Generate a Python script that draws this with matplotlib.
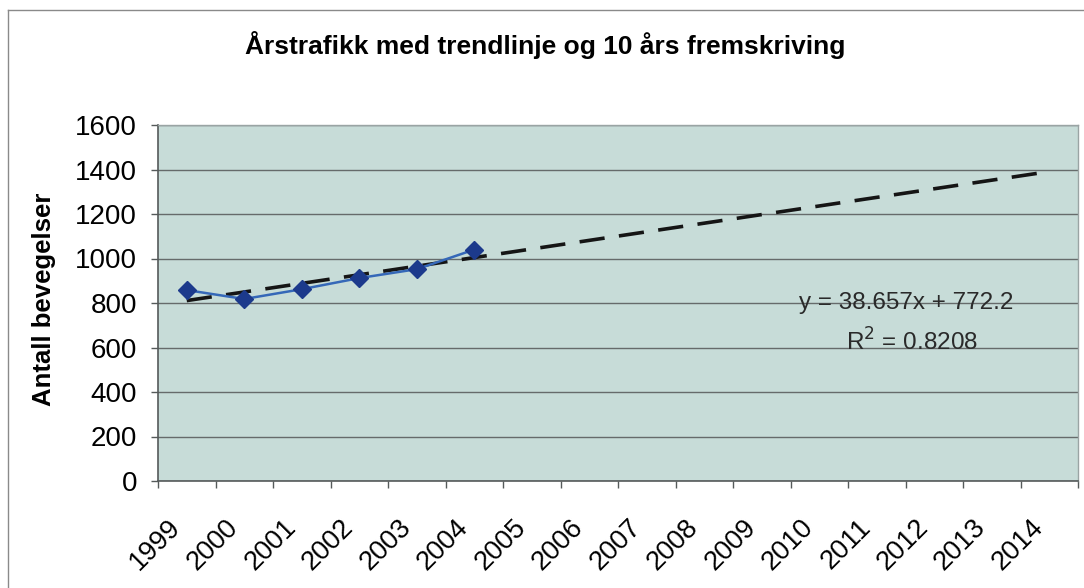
import matplotlib
matplotlib.use("Agg")
import matplotlib.pyplot as plt
from matplotlib.lines import Line2D
from matplotlib.transforms import ScaledTranslation
import numpy as np

plt.rcParams['font.family'] = ['Liberation Sans', 'DejaVu Sans']

# Annual traffic (movements) per year, observed
years = ['1999', '2000', '2001', '2002', '2003', '2004', '2005', '2006',
         '2007', '2008', '2009', '2010', '2011', '2012', '2013', '2014']
observed = [858, 818, 862, 912, 952, 1040]

# Linear trend, y = a*x + b with x = 1 for the first year
trend_slope = 38.657
trend_intercept = 772.2
trend_r2 = 0.8208

y_ticks = [0, 200, 400, 600, 800, 1000, 1200, 1400, 1600]

fig = plt.figure(figsize=(10.84, 5.88), dpi=100)
ax = fig.add_axes([158 / 1084, 1 - 481 / 588, 920 / 1084, 356 / 588])
ax.set_facecolor('#c7dcd8')

n = len(years)
x_all = np.arange(1, n + 1)
x_obs = np.arange(1, len(observed) + 1)

ax.set_xlim(0.5, n + 0.5)
ax.set_ylim(0, 1600)

# gridlines
ax.set_yticks(y_ticks)
ax.yaxis.grid(True, color='#666b6b', linewidth=1.0)
ax.set_axisbelow(True)

# observed series
ax.plot(x_obs, observed, color='#3568b8', linewidth=1.8, zorder=3)
ax.plot(x_obs, observed, linestyle='none', marker='D', markersize=9,
        color='#1c3a8c', markeredgecolor='#1c3a8c', zorder=4)

# trend line with 10-year forecast
trend = trend_slope * x_all + trend_intercept
ax.plot(x_all, trend, color='#151515', linewidth=2.6,
        dashes=(7, 4), zorder=2)

ax.text(0.813, 0.5, 'y = 38.657x + 772.2', transform=ax.transAxes,
        fontsize=17.5, color='#2a2a2a', ha='center', va='center')
ax.text(0.82, 0.39, 'R$^2$ = %.4f' % trend_r2, transform=ax.transAxes,
        fontsize=17.5, color='#2a2a2a', ha='center', va='center')

# axes styling
for side in ['top', 'right']:
    ax.spines[side].set_color('#9aa4a4')
    ax.spines[side].set_linewidth(1.0)
for side in ['left', 'bottom']:
    ax.spines[side].set_color('#555a5a')
    ax.spines[side].set_linewidth(1.2)

ax.tick_params(axis='y', direction='out', length=5, width=1,
               color='#555a5a', labelsize=20, pad=10)
ax.set_yticklabels([str(v) for v in y_ticks])

# ticks between categories, labels at the category centres
ax.set_xticks(np.arange(0.5, n + 1.0, 1.0))
ax.set_xticklabels([])
ax.tick_params(axis='x', which='major', direction='out', length=5,
               width=1, color='#555a5a')
ax.set_xticks(x_all, minor=True)
ax.set_xticklabels(years, minor=True, rotation=45, ha='right',
                   rotation_mode='anchor', fontsize=19.5)
ax.tick_params(axis='x', which='minor', length=0, pad=24)
shift = ScaledTranslation(-19 / 100, 0, fig.dpi_scale_trans)
for lbl in ax.get_xticklabels(minor=True):
    lbl.set_transform(lbl.get_transform() + shift)

ax.set_ylabel('Antall bevegelser', fontsize=18.5, fontweight='bold')
ax.yaxis.set_label_coords((56 - 158) / 920, 0.51)

fig.text(0.503, 1 - 45 / 588, 'Årstrafikk med trendlinje og 10 års fremskriving',
         fontsize=19, fontweight='bold', ha='center', va='center')

# chart-area border
fig.add_artist(Line2D([8 / 1084, 8 / 1084], [0, 1 - 10 / 588],
                      transform=fig.transFigure, color='#8a8a8a', linewidth=1))
fig.add_artist(Line2D([8 / 1084, 1], [1 - 10 / 588, 1 - 10 / 588],
                      transform=fig.transFigure, color='#8a8a8a', linewidth=1))

fig.savefig('out.png', dpi=100, facecolor='white')
